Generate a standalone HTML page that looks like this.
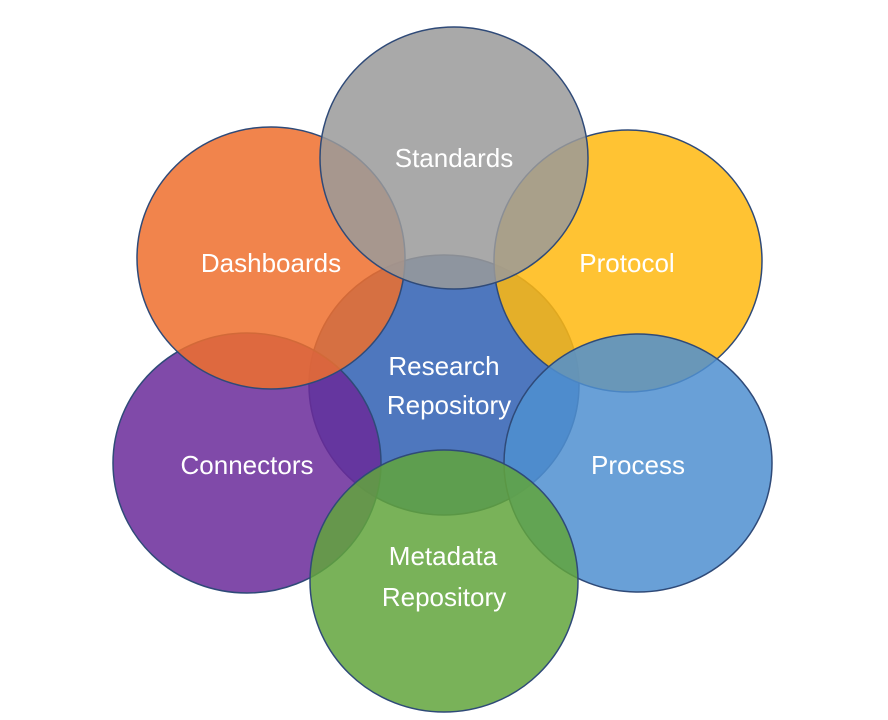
<!DOCTYPE html>
<html><head><meta charset="utf-8"><style>
html,body{margin:0;padding:0;background:#fff;width:888px;height:720px;overflow:hidden}
text{font-family:"Liberation Sans",sans-serif;font-size:26px;fill:#fff;text-anchor:middle}
</style></head><body>
<svg width="888" height="720" viewBox="0 0 888 720" xmlns="http://www.w3.org/2000/svg">
<g stroke="#2f4a78" stroke-width="1.5" fill-opacity="0.85">
<ellipse cx="444" cy="385" rx="135" ry="130" fill="#2f5fb3"/>
<ellipse cx="247" cy="463" rx="134" ry="130" fill="#6a2a9a"/>
<ellipse cx="271" cy="258" rx="134" ry="131" fill="#ee6f2d"/>
<ellipse cx="628" cy="261" rx="134" ry="131" fill="#ffb90f"/>
<ellipse cx="454" cy="158" rx="134" ry="131" fill="#9a9a9a"/>
<ellipse cx="638" cy="463" rx="134" ry="129" fill="#4f8fd0"/>
<ellipse cx="444" cy="581" rx="134" ry="131" fill="#62a53c"/>
</g>
<text x="454" y="167">Standards</text>
<text x="271" y="272">Dashboards</text>
<text x="627" y="272">Protocol</text>
<text x="444" y="375">Research</text>
<text x="449" y="414">Repository</text>
<text x="247" y="474">Connectors</text>
<text x="638" y="474">Process</text>
<text x="443" y="565">Metadata</text>
<text x="444" y="606">Repository</text>
</svg>
</body></html>
